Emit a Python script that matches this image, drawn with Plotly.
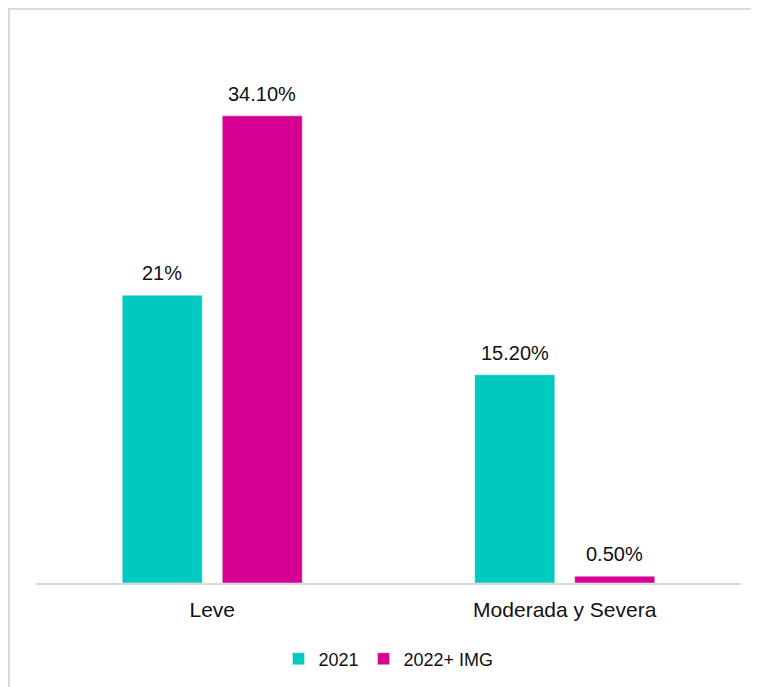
import plotly.graph_objects as go

categories = ["Leve", "Moderada y Severa"]
series_names = ["2021", "2022+ IMG"]
values_2021 = [21.0, 15.2]
values_2022 = [34.1, 0.5]
labels_2021 = ["21%", "15.20%"]
labels_2022 = ["34.10%", "0.50%"]
colors = ["#00c9c0", "#d60093"]

fig = go.Figure()
fig.add_trace(go.Bar(x=categories, y=values_2021, name=series_names[0],
                     marker_color=colors[0]))
fig.add_trace(go.Bar(x=categories, y=values_2022, name=series_names[1],
                     marker_color=colors[1]))

annotations = []
for vals, labs, shift in [(values_2021, labels_2021, -50), (values_2022, labels_2022, 50)]:
    for c, v, t in zip(categories, vals, labs):
        annotations.append(dict(x=c, y=v, text=t, showarrow=False, xshift=shift,
                                yanchor="bottom", yshift=9,
                                font=dict(size=20, color="#111111", family="Liberation Sans")))

fig.update_layout(
    width=759, height=687,
    margin=dict(l=28, r=26, t=27, b=112),
    paper_bgcolor="white", plot_bgcolor="white",
    barmode="group", bargap=0.4326, bargroupgap=0.2,
    font=dict(family="Liberation Sans", size=20, color="#111111"),
    xaxis=dict(showline=True, linecolor="#d9d9d9", linewidth=1.5, ticks="",
               ticklabelstandoff=7, tickfont=dict(size=21, color="#111111")),
    yaxis=dict(range=[0, 40], visible=False, showgrid=False),
    legend=dict(orientation="h", x=0.5, xanchor="center", y=-0.105, yanchor="top",
                font=dict(size=18), traceorder="normal"),
    annotations=annotations,
    shapes=[
        dict(type="rect", xref="paper", yref="paper", x0=-27/705, x1=1.2, y0=-0.4,
             y1=574/548, line=dict(color="#d9d9d9", width=2), fillcolor="rgba(0,0,0,0)"),
    ],
)

fig.write_html("out.html")
